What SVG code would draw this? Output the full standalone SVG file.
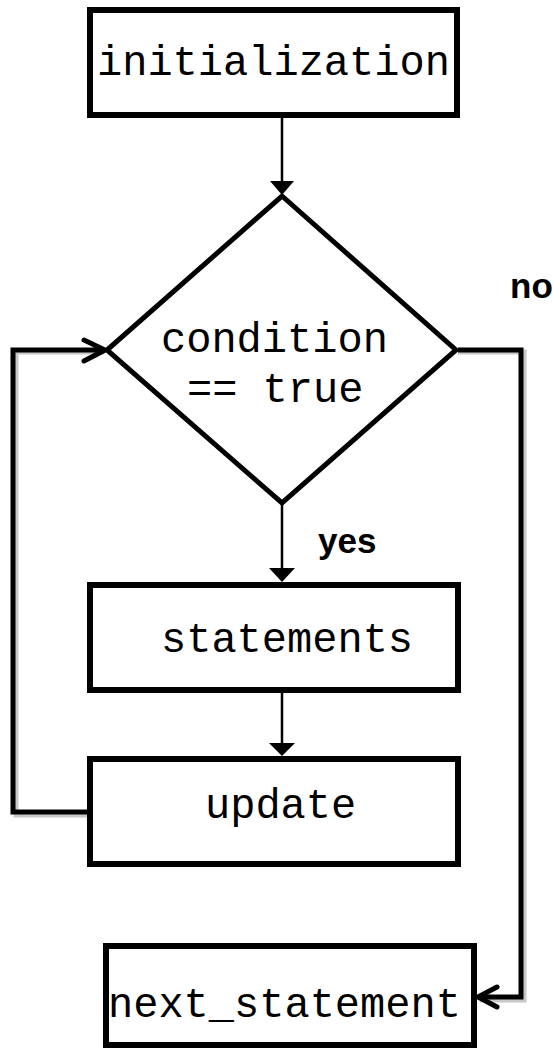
<svg xmlns="http://www.w3.org/2000/svg" width="554" height="1050" viewBox="0 0 554 1050">
  <style>
    .box { fill: #ffffff; stroke: #000000; stroke-width: 6; }
    .dec { fill: #ffffff; stroke: #000000; stroke-width: 5; stroke-linejoin: miter; }
    .code { font-family: "Liberation Mono", "Courier New", monospace; font-size: 42px; fill: #000000; }
    .lbl { font-family: "Liberation Sans", Arial, sans-serif; font-size: 35px; font-weight: bold; fill: #000000; }
    .flow { fill: none; stroke: #000000; stroke-width: 2.5; }
    .loop { fill: none; stroke: #000000; stroke-width: 5; }
    .shadow { fill: none; stroke: #c8c8c8; stroke-width: 5; }
    .head { fill: #000000; stroke: none; }
  </style>

  <!-- connectors -->
  <g id="connectors">
    <!-- init -> condition -->
    <line class="flow" x1="282" y1="118" x2="282" y2="183"/>
    <polygon class="head" points="270,181 294,181 282,195"/>
    <!-- condition -> statements (yes) -->
    <line class="flow" x1="282" y1="503" x2="282" y2="570"/>
    <polygon class="head" points="269,568 295,568 282,582"/>
    <!-- statements -> update -->
    <line class="flow" x1="282" y1="693" x2="282" y2="745"/>
    <polygon class="head" points="269,743 295,743 282,756"/>
    <!-- update -> condition (loop back) -->
    <path class="shadow" d="M 89 815 L 16 815 L 16 352 L 104 352"/>
    <path class="loop" d="M 89 812 L 13 812 L 13 350 L 104 350"/>
    <path class="loop" d="M 84 340 L 105 350 L 84 361" stroke-linecap="round"/>
    <!-- condition -> next_statement (no) -->
    <path class="shadow" d="M 458 352 L 524 352 L 524 1000 L 480 1000"/>
    <path class="loop" d="M 458 350 L 521 350 L 521 997 L 479 997"/>
    <path class="loop" d="M 497 987 L 478 997 L 497 1007" stroke-linecap="round"/>
    <text class="lbl" x="318" y="553">yes</text>
    <text class="lbl" x="510" y="298">no</text>
  </g>

  <g id="initialization">
    <rect class="box" x="90" y="10" width="367" height="105"/>
    <text class="code" x="97" y="75">initialization</text>
  </g>

  <g id="condition">
    <polygon class="dec" points="282,196 456,350 282,503 107,350"/>
    <text class="code" x="161" y="352">condition</text>
    <text class="code" x="187" y="402">== true</text>
  </g>

  <g id="statements">
    <rect class="box" x="90" y="585" width="368" height="105"/>
    <text class="code" x="161" y="652">statements</text>
  </g>

  <g id="update">
    <rect class="box" x="90" y="759" width="368" height="105"/>
    <text class="code" x="205" y="818">update</text>
  </g>

  <g id="next_statement">
    <rect class="box" x="106" y="946" width="368" height="99"/>
    <text class="code" x="108" y="1017">next_statement</text>
  </g>
</svg>
